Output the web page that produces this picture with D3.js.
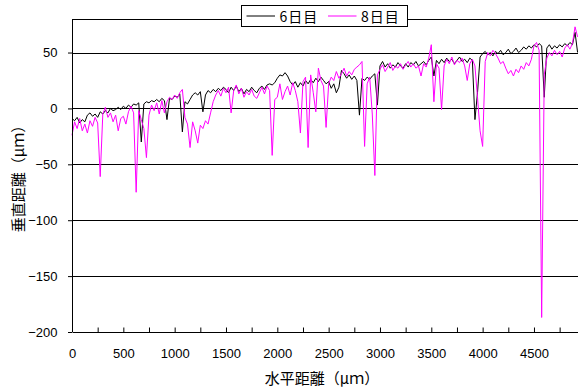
<!DOCTYPE html>
<html>
<head>
<meta charset="utf-8">
<script src="https://cdn.jsdelivr.net/npm/d3@7"></script>
<style>
  body { margin: 0; background: #fff; }
  svg { display: block; }
  .axis text { font-family: "Liberation Sans", Arial, sans-serif; font-size: 13px; fill: #000; }
  .axis path, .axis line { stroke: #000; }
  .jp { font-family: "Noto Sans CJK JP", sans-serif; fill: #000; }
</style>
</head>
<body>
<svg id="chart" width="578" height="389"></svg>
<script>
// ----- Data ---------------------------------------------------------------
// one sample every 25 um along the horizontal axis
var STEP_UM = 25;

var SERIES_NAMES = ['6日目', '8日目'];

var DAY6 = [
  -9, -11, -8, -13, -10, -12, -6, -4, -7, -5, -8, -3, -5, -2, -4, 0, -2, -1, 1, -1,
  2, 0, 3, 1, 4, 3, 5, -30, 4, 6, 5, 7, 6, 8, 6, 9, 7, -10, 9, 8,
  11, 10, 13, -21, 6, 4, 8, 12, 14, 12, 15, -3, 12, 16, 14, 17, 15, 18, 16, 19,
  17, 14, 19, 16, 20, 15, 18, 13, 17, 15, 19, 16, 14, 18, 20, 17, 21, 22, 21, 23,
  27, 30, 29, 32, 29, 24, 21, 24, 19, 23, 20, 25, 22, 26, 23, 27, 24, 28, 25, 22,
  24, 18, 22, 14, 19, 34, 31, 27, 30, 26, 29, 25, -6, 27, 25, 28, 26, 29, 31, 3,
  38, 42, 37, 40, 36, 39, 37, 41, 38, 36, 40, 37, 41, 39, 42, 38, 40, 42, 39, 43,
  46, 29, 43, 40, 44, 41, 45, 42, 44, 40, 43, 46, 42, 44, 41, 45, 43, -10, 14, 46,
  49, 51, 48, 50, 47, 51, 49, 52, 48, 50, 53, 49, 51, 54, 50, 52, 55, 53, 56, 54,
  57, 55, 58, 56, 10, 54, 57, 53, 56, 54, 57, 55, 58, 56, 59, 57, 68, 50
];

var DAY8 = [
  -24, -12, -18, -9, -20, -14, -22, -11, -16, -8, -13, -61, -5, 1, -8, -4, -12, -6, -20, -9,
  -7, -14, -3, 2, -4, -75, -2, -10, -18, -44, -6, 3, -2, 5, -5, 7, -4, 6, 10, 8,
  12, 9, 14, 17, -8, -14, -35, -12, -20, -31, -15, -18, -11, -14, -4, 6, 12, 16, 11, 18,
  14, 19, -4, 16, 21, 13, 18, 10, 15, 12, 17, 11, 9, 14, 19, 13, 20, 16, -42, 8,
  10, 22, 8, 15, 20, 12, 23, 16, 6, -22, 24, 28, -35, 30, 14, -3, 36, 25, 20, -17,
  22, 28, 25, 33, 27, 31, 36, 29, 33, 30, 35, 37, 39, 42, -34, 22, 28, -5, -60, 30,
  35, 39, 33, 37, 41, 34, 38, 36, 40, 35, 39, 42, 37, 40, 36, 38, 29, 40, 37, 45,
  57, 6, 40, 36, -1, 38, 44, 40, 46, 39, 43, 41, 45, 38, 25, 40, 44, 38, 10, -20,
  -34, 42, 50, 47, 52, 49, 45, 40, 42, 36, 31, 34, 29, 35, 32, 38, 35, 41, 38, 44,
  56, 59, 52, -187, 30, 45, 50, 47, 52, 48, 51, 46, 54, 57, 53, 58, 73, 64
];

var X_LABELS = [0, 500, 1000, 1500, 2000, 2500, 3000, 3500, 4000, 4500];
var Y_TICKS = [-200, -150, -100, -50, 0, 50];

var COLORS = ['#000000', '#ff00ff'];

// ----- SVG Setup ----------------------------------------------------------
var svg = d3.select('#chart');
var plot = { left: 72, top: 19, bottom: 332, right: 585.3 };

var x = d3.scaleLinear().domain([0, 5000]).range([plot.left, plot.right]);
var y = d3.scaleLinear().domain([-200, 80]).range([plot.bottom, plot.top]);

// horizontal grid lines + top frame
svg.append('g')
  .selectAll('line')
  .data(Y_TICKS.filter((d) => d !== -200))
  .enter().append('line')
    .attr('x1', plot.left)
    .attr('x2', 578)
    .attr('y1', (d) => Math.round(y(d)) + 0.5)
    .attr('y2', (d) => Math.round(y(d)) + 0.5)
    .attr('stroke', '#000')
    .attr('stroke-width', 1);

svg.append('line')
    .attr('x1', plot.left).attr('x2', 578)
    .attr('y1', plot.top + 0.5).attr('y2', plot.top + 0.5)
    .attr('stroke', '#000');

// ----- Series -------------------------------------------------------------
var line = d3.line()
  .x((d, i) => x(i * STEP_UM))
  .y((d) => y(d));

[DAY6, DAY8].forEach(function(series, k) {
  svg.append('path')
      .datum(series)
      .attr('fill', 'none')
      .attr('stroke', COLORS[k])
      .attr('stroke-width', 1)
      .attr('stroke-linejoin', 'round')
      .attr('d', line);
});

// ----- Axes ---------------------------------------------------------------
var minorTicks = d3.range(0, 4751, 250);

svg.append('g')
    .attr('class', 'axis')
    .attr('transform', 'translate(0,' + plot.bottom + ')')
    .call(d3.axisBottom(x)
      .tickValues(minorTicks)
      .tickSizeInner(-4.5)
      .tickSizeOuter(0)
      .tickPadding(17)
      .tickFormat((d) => X_LABELS.indexOf(d) >= 0 ? d : ''));

svg.append('g')
    .attr('class', 'axis')
    .attr('transform', 'translate(' + plot.left + ',0)')
    .call(d3.axisLeft(y)
      .tickValues(Y_TICKS)
      .tickSizeInner(4)
      .tickSizeOuter(0)
      .tickPadding(10.5)
      .tickFormat((d) => d < 0 ? '\u2212' + Math.abs(d) : d))
    .select('.domain')
      .attr('d', 'M0.5,' + plot.top + 'V' + plot.bottom);

// ----- Titles -------------------------------------------------------------
svg.append('text')
    .attr('class', 'jp')
    .attr('x', 322)
    .attr('y', 377)
    .attr('text-anchor', 'middle')
    .attr('dominant-baseline', 'central')
    .style('font-size', '15px')
    .text('水平距離（μｍ）');

svg.append('text')
    .attr('class', 'jp')
    .attr('transform', 'translate(17,175) rotate(-90)')
    .attr('text-anchor', 'middle')
    .attr('dominant-baseline', 'central')
    .style('font-size', '15px')
    .text('垂直距離（μｍ）');

// ----- Legend -------------------------------------------------------------
var legend = svg.append('g').attr('transform', 'translate(241.5,5.5)');

legend.append('rect')
    .attr('width', 166)
    .attr('height', 21)
    .attr('fill', '#fff')
    .attr('stroke', '#000');

var legendX = [5, 86.5];
SERIES_NAMES.forEach(function(name, k) {
  legend.append('line')
      .attr('x1', legendX[k]).attr('x2', legendX[k] + 28.5)
      .attr('y1', 10.5).attr('y2', 10.5)
      .attr('stroke', COLORS[k]);
  legend.append('text')
      .attr('class', 'jp')
      .attr('x', legendX[k] + 33)
      .attr('y', 10.5)
      .attr('dominant-baseline', 'central')
      .style('font-size', '14px')
      .style('letter-spacing', '1px')
      .text(name);
});
</script>
</body>
</html>
